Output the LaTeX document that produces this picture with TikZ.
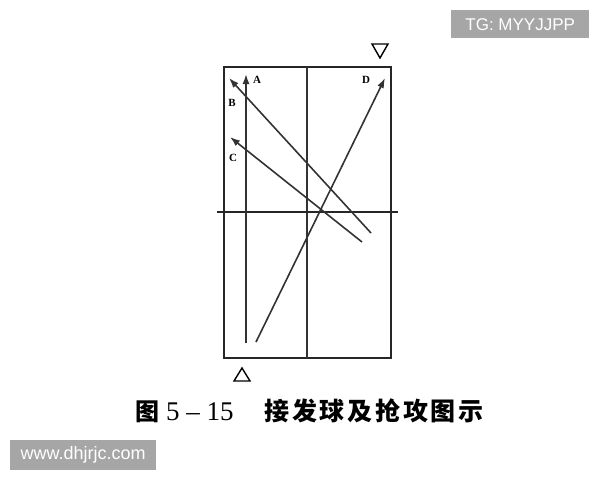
\documentclass[tikz,border=0pt]{standalone}
\usepackage{fontspec}
\setmainfont{Liberation Serif}
\newfontfamily\cjk{Noto Sans CJK SC}
\newfontfamily\wm{Liberation Sans}
\usetikzlibrary{arrows.meta}
\newcommand\cb[1]{\makebox[27.7pt]{#1}}
\begin{document}
\begin{tikzpicture}[x=1pt,y=-1pt,
  court/.style={draw=black!85,line width=2.6pt},
  thin/.style={draw=black!80,line width=1.6pt},
  shot/.style={draw=black!80,line width=1.6pt,-{Latex[length=10pt,width=7pt]}},
  lbl/.style={font=\bfseries\fontsize{11}{11}\selectfont,inner sep=0pt},
  tri/.style={draw=black,line width=1.4pt,fill=white},
  captext/.style={inner sep=0pt,font=\fontsize{25}{25}\selectfont},
  wmbox/.style={fill=black!35,text=white,inner sep=0pt,minimum height=28pt,anchor=north west}]
\useasboundingbox (0,0) rectangle (600,480);
% court
\draw[court] (224,67) rectangle (391,358);
\coordinate (ct) at (307,67);
\coordinate (cb) at (307,358);
\draw[thin] (ct) -- (cb);
\coordinate (nl) at (217,212);
\coordinate (nr) at (398,212);
\draw[court] (nl) -- (nr);
% shots
\coordinate (a0) at (246,343);
\coordinate (a1) at (246,74);
\draw[shot] (a0) -- (a1);
\coordinate (b0) at (371,233);
\coordinate (b1) at (229,78);
\draw[shot] (b0) -- (b1);
\coordinate (c0) at (362,242);
\coordinate (c1) at (230,137);
\draw[shot] (c0) -- (c1);
\coordinate (d0) at (256,342);
\coordinate (d1) at (385,78);
\draw[shot] (d0) -- (d1);
% labels
\node[lbl] (la) at (257,80) {A};
\node[lbl] (lb) at (232,103) {B};
\node[lbl] (lc) at (233,158) {C};
\node[lbl] (ld) at (366,80) {D};
% triangles
\draw[tri] (372,44) -- (388,44) -- (380,58) -- cycle;
\draw[tri] (242,368) -- (250,381) -- (234,381) -- cycle;
% caption
\node[captext,font=\fontsize{24}{24}\selectfont] (cap1) at (147.5,411.5) {\cjk\bfseries 图};
\node[inner sep=0pt,anchor=base west,font=\fontsize{27}{27}\selectfont] (cap2) at (166,420) {5 – 15};
\node[captext] (cap3) at (374,411) {\cjk\bfseries \cb{接}\cb{发}\cb{球}\cb{及}\cb{抢}\cb{攻}\cb{图}\cb{示}};
% watermarks
\node[wmbox,minimum width=138pt,font=\wm\fontsize{17}{17}\selectfont] (w1) at (451,10) {TG: MYYJJPP};
\node[wmbox,minimum width=146pt,minimum height=30pt,font=\wm\fontsize{18}{18}\selectfont] (w2) at (10,440) {www.dhjrjc.com};
\end{tikzpicture}
\end{document}
